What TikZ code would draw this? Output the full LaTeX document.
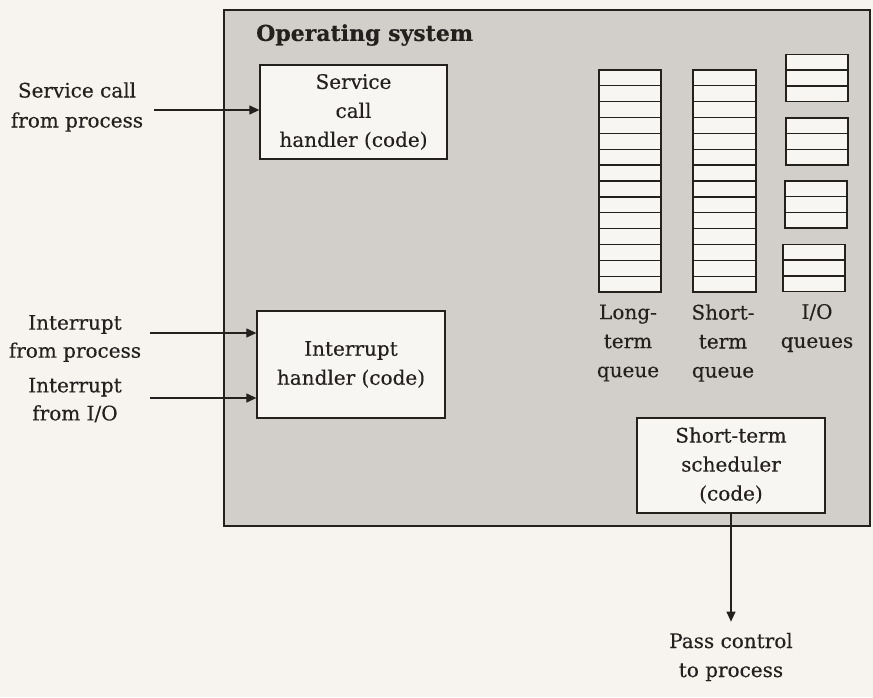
\documentclass[tikz,border=0pt]{standalone}
\usepackage{fontspec}
\setmainfont{DejaVu Serif}[FakeBold=0.3]
\usetikzlibrary{arrows.meta,calc}
\definecolor{paper}{RGB}{247,244,239}
\definecolor{osgray}{RGB}{210,207,202}
\definecolor{boxfill}{RGB}{248,246,242}
\definecolor{ink}{RGB}{35,32,30}
\begin{document}
\begin{tikzpicture}[x=1pt,y=-1pt,
  txt/.style={font=\fontsize{20}{29}\selectfont, align=center, text=ink, inner sep=0pt},
  handler/.style={draw=ink, line width=1.3pt, fill=boxfill, inner sep=0pt,
    font=\fontsize{20}{29}\selectfont, align=center, text=ink},
  arr/.style={draw=ink, line width=1.2pt, -{Triangle[length=10pt,width=9pt]}},
  cell/.style={draw=ink, line width=1.2pt, fill=boxfill, inner sep=0pt},
  sep/.style={draw=ink, line width=1.2pt}]
\useasboundingbox (0,0) rectangle (873,697);
\fill[paper] (0,0) rectangle (873,697);

% operating system area
\node[draw=ink, line width=1.3pt, fill=osgray, minimum width=646pt, minimum height=516pt, inner sep=0pt] (os) at (547,268) {};
\node[font=\fontsize{22}{26}\selectfont\bfseries, text=ink, anchor=west, inner sep=0pt] (title) at (256,35) {Operating system};

% handlers
\node[handler, minimum width=187pt, minimum height=94pt] (svc) at (353.5,112) {Service\\call\\handler (code)};
\node[handler, minimum width=188pt, minimum height=107pt] (intr) at (351,364.5) {Interrupt\\handler (code)};
\node[handler, minimum width=188pt, minimum height=95pt] (sched) at (731,465.5) {Short-term\\scheduler\\(code)};

% long-term queue
\node[cell, minimum width=62pt, minimum height=222pt] (ltq) at (630,181) {};
\foreach \k in {1,...,13}
  \draw[sep] ($(ltq.north west)!{\k/14}!(ltq.south west)$) -- ($(ltq.north east)!{\k/14}!(ltq.south east)$);
% short-term queue
\node[cell, minimum width=63pt, minimum height=222pt] (stq) at (724.5,181) {};
\foreach \k in {1,...,13}
  \draw[sep] ($(stq.north west)!{\k/14}!(stq.south west)$) -- ($(stq.north east)!{\k/14}!(stq.south east)$);
% I/O queues
\foreach \n/\cx/\cy in {io1/817/78, io2/817/141.5, io3/816/204.5, io4/814/268}{
  \node[cell, minimum width=62pt, minimum height=47pt] (\n) at (\cx,\cy) {};
  \foreach \k in {1,2}
    \draw[sep] ($(\n.north west)!{\k/3}!(\n.south west)$) -- ($(\n.north east)!{\k/3}!(\n.south east)$);
}

% queue labels
\node[txt] (ltql) at (628,343) {Long-\\term\\queue};
\node[txt] (stql) at (723,343) {Short-\\term\\queue};
\node[txt] (iol) at (817,328) {I/O\\queues};

% left labels
\node[txt, font=\fontsize{20}{30}\selectfont] (svcl) at (77,107) {Service call\\from process};
\node[txt, font=\fontsize{20}{28}\selectfont] (int1) at (75,338.5) {Interrupt\\from process};
\node[txt, font=\fontsize{20}{28}\selectfont] (int2) at (75,400) {Interrupt\\from I/O};

% arrows
\coordinate (a1) at (154,110);
\coordinate (a2) at (150,333);
\coordinate (a3) at (150,398);
\draw[arr] (a1) -- (svc.west |- a1);
\draw[arr] (a2) -- (intr.west |- a2);
\draw[arr] (a3) -- (intr.west |- a3);

% output
\node[txt] (pass) at (731,657) {Pass control\\to process};
\draw[arr, shorten >=11pt] (sched.south) -- (sched.south |- pass.north);
\end{tikzpicture}
\end{document}
